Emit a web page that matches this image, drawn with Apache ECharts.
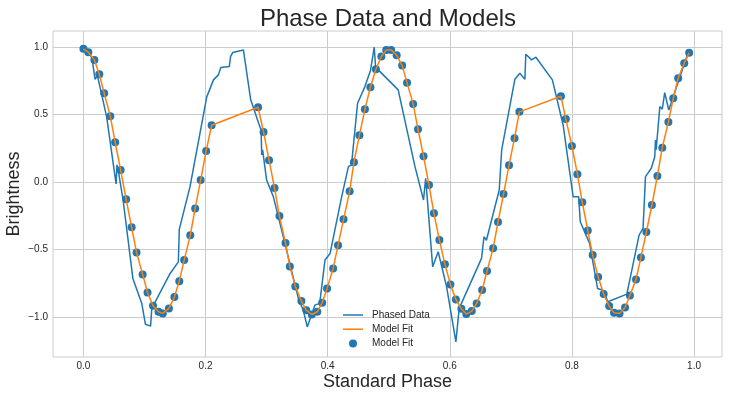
<!DOCTYPE html>
<html>
<head>
<meta charset="utf-8">
<title>Phase Data and Models</title>
<script src="https://cdn.jsdelivr.net/npm/echarts@6/dist/echarts.min.js"></script>
<style>
  html, body { margin: 0; padding: 0; background: #fff; }
  #chart { width: 729px; height: 399px; }
</style>
</head>
<body>
<div id="chart"></div>
<script>
// phased light curve (blue line)
const dataPhase = [
  0.000, 0.008, 0.014, 0.019, 0.023, 0.038, 0.0535, 0.055, 0.058, 0.065,
  0.081, 0.0956, 0.1015, 0.110, 0.112, 0.142, 0.1555, 0.157, 0.1746, 0.202,
  0.213, 0.221, 0.225, 0.239, 0.241, 0.2445, 0.262, 0.274, 0.2766, 0.287,
  0.291, 0.292, 0.2935, 0.300, 0.311, 0.330, 0.352, 0.360, 0.3666, 0.379,
  0.387, 0.3956, 0.404, 0.423, 0.434, 0.439, 0.449, 0.461, 0.470, 0.4763,
  0.479, 0.480, 0.5155, 0.543, 0.557, 0.5605, 0.572, 0.581, 0.5948, 0.610,
  0.6154, 0.652, 0.656, 0.660, 0.681, 0.685, 0.7066, 0.7147, 0.723, 0.7245,
  0.734, 0.741, 0.768, 0.7856, 0.802, 0.811, 0.8137, 0.829, 0.842, 0.851,
  0.859, 0.890, 0.910, 0.9165, 0.9205, 0.930, 0.9357, 0.9368, 0.938, 0.944,
  0.948, 0.952, 0.9586, 0.990
];
const dataFlux = [
  0.990, 0.968, 0.919, 0.763, 0.788, 0.486, -0.013, 0.128, 0.061, -0.132,
  -0.713, -0.898, -1.052, -1.066, -0.935, -0.676, -0.590, -0.350, -0.033, 0.632,
  0.758, 0.795, 0.849, 0.857, 0.930, 0.960, 0.980, 0.610, 0.597, 0.437,
  0.387, 0.202, 0.240, 0.016, -0.107, -0.453, -0.861, -0.948, -1.072, -0.911,
  -0.898, -0.577, -0.528, -0.107, 0.115, 0.128, 0.585, 0.708, 0.825, 1.000,
  0.820, 0.845, 0.684, 0.115, -0.132, 0.029, -0.627, -0.515, -0.775, -1.183,
  -0.935, -0.564, -0.404, -0.430, -0.058, 0.239, 0.763, 0.807, 0.763, 0.948,
  0.906, 0.926, 0.758, 0.424, -0.107, -0.107, -0.293, -0.453, -0.787, -0.800,
  -0.886, -0.829, -0.392, -0.342, 0.041, 0.103, 0.189, 0.313, 0.240, 0.560,
  0.541, 0.664, 0.535, 0.956
];

// model fit (orange line + blue dots)
const modelPhase = [
  0.000, 0.008, 0.018, 0.026, 0.034, 0.044, 0.052, 0.061, 0.070, 0.079,
  0.087, 0.097, 0.105, 0.114, 0.123, 0.130, 0.140, 0.149, 0.157, 0.165,
  0.175, 0.183, 0.192, 0.201, 0.210, 0.286, 0.295, 0.304, 0.313, 0.321,
  0.331, 0.338, 0.347, 0.357, 0.365, 0.374, 0.383, 0.391, 0.399, 0.409,
  0.417, 0.426, 0.436, 0.443, 0.452, 0.461, 0.470, 0.479, 0.488, 0.496,
  0.504, 0.513, 0.522, 0.530, 0.540, 0.548, 0.557, 0.566, 0.574, 0.583,
  0.592, 0.601, 0.610, 0.619, 0.627, 0.636, 0.644, 0.653, 0.661, 0.671,
  0.679, 0.688, 0.697, 0.706, 0.714, 0.782, 0.790, 0.800, 0.809, 0.817,
  0.826, 0.834, 0.843, 0.852, 0.861, 0.869, 0.878, 0.887, 0.895, 0.905,
  0.913, 0.922, 0.931, 0.940, 0.948, 0.958, 0.966, 0.974, 0.984, 0.992
];
const modelFlux = [
  0.988, 0.963, 0.906, 0.800, 0.659, 0.489, 0.296, 0.090, -0.127, -0.334,
  -0.520, -0.683, -0.817, -0.916, -0.960, -0.972, -0.935, -0.851, -0.733, -0.577,
  -0.394, -0.194, 0.016, 0.231, 0.422, 0.555, 0.372, 0.163, -0.043, -0.251,
  -0.451, -0.624, -0.772, -0.881, -0.948, -0.980, -0.960, -0.893, -0.787, -0.639,
  -0.468, -0.275, -0.068, 0.148, 0.348, 0.540, 0.704, 0.837, 0.931, 0.980,
  0.980, 0.941, 0.864, 0.736, 0.580, 0.392, 0.193, -0.021, -0.231, -0.429,
  -0.607, -0.757, -0.869, -0.938, -0.977, -0.955, -0.898, -0.799, -0.658, -0.490,
  -0.295, -0.088, 0.125, 0.326, 0.521, 0.637, 0.469, 0.268, 0.059, -0.149,
  -0.357, -0.540, -0.703, -0.829, -0.918, -0.968, -0.972, -0.928, -0.839, -0.720,
  -0.557, -0.369, -0.169, 0.046, 0.256, 0.446, 0.622, 0.770, 0.882, 0.958
];

const xTicks = [0, 0.2, 0.4, 0.6, 0.8, 1.0];
const yTicks = [-1, -0.5, 0, 0.5, 1];

const blue = '#1f77b4';
const orange = '#ff7f0e';
const ink = '#262626';
const gridGrey = '#cccccc';
const font = '"Liberation Sans", Arial, sans-serif';
const lineIcon = 'path://M0,0L20,0L20,1.5L0,1.5Z';

const pairs = (xs, ys) => xs.map((x, i) => [x, ys[i]]);
const fmt = v => (v < 0 ? '\u2212' : '') + Math.abs(v).toFixed(1);

const chart = echarts.init(document.getElementById('chart'), null, { renderer: 'canvas' });

const option = {
  animation: false,
  backgroundColor: '#ffffff',
  textStyle: { fontFamily: font },
  title: {
    text: 'Phase Data and Models',
    left: 383,
    top: 2,
    textAlign: 'center',
    textStyle: { fontFamily: font, fontSize: 24, fontWeight: 'normal', color: ink }
  },
  grid: {
    left: 53, right: 7, top: 31, bottom: 42,
    outerBoundsMode: 'none',
    containLabel: false,
    show: true, borderColor: gridGrey, borderWidth: 1, backgroundColor: 'transparent'
  },
  legend: {
    orient: 'vertical',
    left: 343,
    top: 309,
    padding: 0,
    itemWidth: 20,
    itemHeight: 8,
    itemGap: 2.2,
    symbolKeepAspect: true,
    textStyle: { fontFamily: font, fontSize: 10, color: ink, lineHeight: 12, padding: [0, 0, 0, 4] },
    data: [
      { name: 'Phased Data', icon: lineIcon },
      { name: 'Model Fit', icon: lineIcon },
      { name: 'Model Fit ', icon: 'circle' }
    ]
  },
  xAxis: {
    type: 'value',
    min: -0.0498,
    max: 1.0458,
    name: 'Standard Phase',
    nameLocation: 'middle',
    nameGap: 16,
    nameMoveOverlap: false,
    nameTextStyle: { fontFamily: font, fontSize: 18, color: ink },
    axisLine: { show: false },
    axisTick: { show: false, customValues: xTicks },
    axisLabel: {
      customValues: xTicks,
      formatter: v => fmt(v),
      fontSize: 10, color: ink, margin: 4
    },
    splitLine: { show: true, lineStyle: { color: gridGrey, width: 1 } }
  },
  yAxis: {
    type: 'value',
    min: -1.295,
    max: 1.12,
    name: 'Brightness',
    nameLocation: 'middle',
    nameGap: 30,
    nameMoveOverlap: false,
    nameRotate: 90,
    nameTextStyle: { fontFamily: font, fontSize: 18, color: ink },
    axisLine: { show: false },
    axisTick: { show: false, customValues: yTicks },
    axisLabel: {
      customValues: yTicks,
      formatter: v => fmt(v),
      fontSize: 10, color: ink, margin: 5
    },
    splitLine: { show: true, lineStyle: { color: gridGrey, width: 1 } }
  },
  series: [
    {
      name: 'Phased Data',
      type: 'line',
      data: pairs(dataPhase, dataFlux),
      showSymbol: false,
      color: blue,
      lineStyle: { color: blue, width: 1.5 },
      z: 3
    },
    {
      name: 'Model Fit',
      type: 'line',
      data: pairs(modelPhase, modelFlux),
      showSymbol: false,
      color: orange,
      lineStyle: { color: orange, width: 1.5 },
      z: 4
    },
    {
      name: 'Model Fit ',
      type: 'scatter',
      data: pairs(modelPhase, modelFlux),
      symbol: 'circle',
      symbolSize: 8,
      itemStyle: { color: blue, opacity: 1 },
      z: 2
    }
  ]
};

chart.setOption(option);
</script>
</body>
</html>
